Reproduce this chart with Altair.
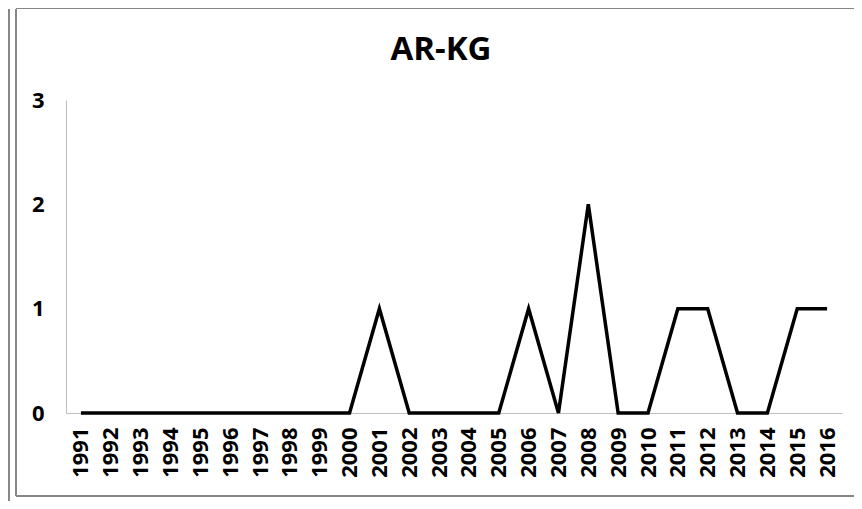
import altair as alt
import pandas as pd

years = [str(y) for y in range(1991, 2017)]
values = [0, 0, 0, 0, 0, 0, 0, 0, 0, 0,
          1, 0, 0, 0, 0, 1, 0, 2, 0, 0,
          1, 1, 0, 0, 1, 1]
y_ticks = [0, 1, 2, 3]
title_text = "AR-KG"

df = pd.DataFrame({"year": years, "value": values})
one = pd.DataFrame({"k": [0]})
title_df = pd.DataFrame({"t": [title_text]})

FONT = "Open Sans"

line = alt.Chart(df).mark_line(color="black", strokeWidth=3.5, strokeJoin="miter").encode(
    x=alt.X("year:O", sort=years, scale=alt.Scale(padding=0.5),
            axis=alt.Axis(title=None, labelAngle=270, labelPadding=14,
                          labelAlign="right", labelBaseline="middle")),
    y=alt.Y("value:Q", scale=alt.Scale(domain=[0, 3], nice=False),
            axis=alt.Axis(title=None, values=y_ticks, labelPadding=22, grid=False)),
)

title = alt.Chart(title_df).mark_text(
    font=FONT, fontSize=33, fontWeight="bold", color="black",
    align="center", baseline="alphabetic",
).encode(text="t:N", x=alt.value(375), y=alt.value(-40))

border_color = "#878787"
left_border = alt.Chart(one).mark_rule(color=border_color, strokeWidth=2).encode(
    x=alt.value(-50), y=alt.value(-91), y2=alt.value(396))
top_border = alt.Chart(one).mark_rule(color=border_color, strokeWidth=2).encode(
    x=alt.value(-50), x2=alt.value(800), y=alt.value(-92))
bottom_border = alt.Chart(one).mark_rule(color=border_color, strokeWidth=2).encode(
    x=alt.value(-50), x2=alt.value(800), y=alt.value(396))
extra_line = alt.Chart(one).mark_rule(color=border_color, strokeWidth=2).encode(
    x=alt.value(-57), y=alt.value(-91), y2=alt.value(420))

chart = alt.layer(line, title, left_border, top_border, bottom_border, extra_line).properties(
    width=776, height=313,
    padding={"left": 58, "top": 92, "right": 12, "bottom": 88},
    autosize=alt.AutoSizeParams(type="none"),
).configure_view(stroke=None).configure_axis(
    domainColor="#bfbfbf", domainWidth=1, ticks=False, grid=False,
    labelFont=FONT, labelFontWeight="bold", labelFontSize=22, labelColor="black",
)

chart.save("out.html", embed_options={"renderer": "svg", "actions": False})
